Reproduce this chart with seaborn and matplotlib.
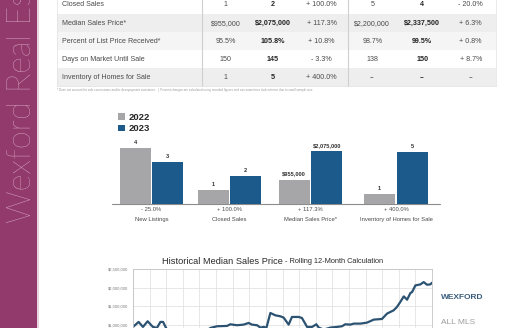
import numpy as np
import pandas as pd
import matplotlib
matplotlib.use("Agg")
import matplotlib.pyplot as plt
from matplotlib.patches import Rectangle, Patch
from matplotlib import font_manager
import seaborn as sns

# ---------------- data ----------------
table_rows = ["Closed Sales", "Median Sales Price*", "Percent of List Price Received*",
              "Days on Market Until Sale", "Inventory of Homes for Sale"]
month_2022 = ["1", "$955,000", "95.5%", "150", "1"]
month_2023 = ["2", "$2,075,000", "105.8%", "145", "5"]
month_change = ["+ 100.0%", "+ 117.3%", "+ 10.8%", "- 3.3%", "+ 400.0%"]
ytd_2022 = ["5", "$2,200,000", "98.7%", "138", "--"]
ytd_2023 = ["4", "$2,337,500", "99.5%", "150", "--"]
ytd_change = ["- 20.0%", "+ 6.3%", "+ 0.8%", "+ 8.7%", "--"]
footnote = ("* Does not account for sale concessions and/or downpayment assistance.  |  "
            "Percent changes are calculated using rounded figures and can sometimes look extreme due to small sample size.")

bar_categories = ["New Listings", "Closed Sales", "Median Sales Price*", "Inventory of Homes for Sale"]
bar_years = ["2022", "2023"]
bar_2022 = [4, 1, 955000, 1]
bar_2023 = [3, 2, 2075000, 5]
bar_change = ["- 25.0%", "+ 100.0%", "+ 117.3%", "+ 400.0%"]

hist_period = [2005.00, 2005.34, 2005.60, 2005.88, 2006.20, 2006.44, 2006.65, 2006.81, 2007.01,
               2007.35, 2007.85, 2008.45, 2009.05, 2009.45, 2009.66, 2010.06, 2010.66, 2010.86,
               2011.26, 2011.66, 2011.96, 2012.16, 2012.47, 2012.67, 2012.87, 2013.03, 2013.27,
               2013.57, 2013.87, 2014.07, 2014.37, 2014.57, 2014.97, 2015.17, 2015.48, 2015.78,
               2016.04, 2016.18, 2016.48, 2016.88, 2017.28, 2017.58, 2017.78, 2018.08, 2018.29,
               2018.69, 2019.09, 2019.49, 2019.99, 2020.29, 2020.69, 2020.89, 2021.09, 2021.30,
               2021.50, 2021.70, 2021.80, 2022.00, 2022.30, 2022.50, 2022.70, 2022.90, 2023.00]
hist_wexford = [951000, 1085000, 951000, 1103000, 951000, 924000, 1085000, 1085000, 906000,
                820000, 780000, 800000, 760000, 850000, 924000, 969000, 978000, 1022000,
                996000, 1013000, 1058000, 1013000, 996000, 933000, 951000, 924000, 1326000,
                1263000, 1237000, 1201000, 1013000, 1219000, 1219000, 1192000, 951000, 951000,
                1022000, 933000, 880000, 933000, 951000, 969000, 1022000, 1013000, 1040000,
                1040000, 1067000, 1147000, 1165000, 1308000, 1397000, 1487000, 1621000, 1772000,
                1683000, 1862000, 1888000, 2067000, 2094000, 2156000, 2085000, 2094000, 2138000]
price_ticks = [1000000, 1500000, 2000000, 2500000]
hist_title = "Historical Median Sales Price"
hist_subtitle = " - Rolling 12-Month Calculation"
series_labels = ["WEXFORD", "ALL MLS"]
sidebar_text = "Wexford Real Estate Market Update"

# ---------------- style ----------------
sns.set_theme(style="white")
plt.rcParams["font.family"] = ["Liberation Sans", "DejaVu Sans"]
names = {f.name for f in font_manager.fontManager.ttflist}
is_narrow = "Liberation Sans Narrow" in names
narrow = ["Liberation Sans Narrow", "Liberation Sans"] if is_narrow else ["Liberation Sans"]

GRAY = "#a6a5a8"
BLUE = "#1c5a8b"
MAGENTA = "#933a6d"
LINE = "#2c5272"
TXT = "#4a4a4a"

W, H = 525, 328
fig = plt.figure(figsize=(W / 100, H / 100), dpi=100)
fig.patch.set_facecolor("white")

def fx(px):
    return px / W

def fy(py):
    return 1 - py / H

# background overlay in pixel coordinates
bg = fig.add_axes([0, 0, 1, 1], zorder=0)
bg.set_xlim(0, W)
bg.set_ylim(H, 0)
bg.axis("off")

# sidebar
bg.add_patch(Rectangle((0, 0), 37, H, color=MAGENTA, lw=0))
bg.add_patch(Rectangle((37, 0), 1.5, H, color="#ecd3e0", lw=0))
fig.text(fx(22), fy(223), sidebar_text, rotation=90, ha="center", va="bottom",
         fontsize=23.5, color="#ecc9dc", family=["Lato", "Liberation Sans"], fontweight="light")

# ---------------- table ----------------
tab_left, tab_right = 57, 496
row_y0, row_h = 5.0, 18.1
shade_col = {1: "#eeeeee", 2: "#f5f5f5", 4: "#eeeeee"}
col_x = [226, 272.7, 321.7, 372.3, 422.3, 470.7]
TFS = 5.1
for i, label in enumerate(table_rows):
    yc = row_y0 + i * row_h
    if i in shade_col:
        bg.add_patch(Rectangle((tab_left, yc - row_h / 2), tab_right - tab_left, row_h,
                               color=shade_col[i], lw=0, zorder=1))
    bg.text(61.5, yc, label, fontsize=TFS, color=TXT, va="center", ha="left", zorder=3)
    cells = [month_2022[i], month_2023[i], month_change[i], ytd_2022[i], ytd_2023[i], ytd_change[i]]
    for j, c in enumerate(cells):
        bold = j in (1, 4)
        bg.text(col_x[j], yc, c, fontsize=TFS, color="#222222" if bold else TXT,
                fontweight="bold" if bold else "normal", va="center", ha="center", zorder=3)
tab_bottom = row_y0 + 4.5 * row_h
for xs in (201.7, 347.7):
    bg.plot([xs, xs], [-5, tab_bottom], color="#cfcfcf", lw=0.8, zorder=2)
bg.plot([tab_left, tab_left], [-5, tab_bottom], color="#e2e2e2", lw=0.5, zorder=2)
bg.plot([tab_right, tab_right], [-5, tab_bottom], color="#e2e2e2", lw=0.5, zorder=2)
bg.plot([tab_left, tab_right], [tab_bottom, tab_bottom], color="#dddddd", lw=0.5, zorder=2)
bg.text(tab_left, 90.5, footnote, fontsize=2.2, color="#9a9a9a", va="center", ha="left")

# ---------------- bar chart ----------------
baseline = 204.3
bar_top_px = 140.0
group_centers = [151.5, 229.5, 310.5, 396.0]
axes_w = 65.0
panel_ylim = [4.6, 4.6, 2.49e6, 6.1]
bg.plot([112, 440], [baseline, baseline], color="#8c8c8c", lw=0.8, zorder=2)

def fmt_val(v, money):
    return f"${v:,.0f}" if money else f"{v:,.0f}"

for i, cat in enumerate(bar_categories):
    ax = fig.add_axes([fx(group_centers[i] - axes_w / 2), fy(baseline), fx(axes_w),
                       (baseline - bar_top_px) / H], zorder=2)
    ax.patch.set_alpha(0)
    df = pd.DataFrame({"year": bar_years, "value": [bar_2022[i], bar_2023[i]]})
    sns.barplot(data=df, x="year", y="value", hue="year", palette=[GRAY, BLUE],
                order=bar_years, hue_order=bar_years, width=0.95, saturation=1,
                legend=False, ax=ax, linewidth=0)
    ax.set_xlim(-0.5, 1.5)
    ax.set_ylim(0, panel_ylim[i])
    ax.axis("off")
    money = "Price" in cat
    for cont in ax.containers:
        for p in cont:
            h = p.get_height()
            ax.annotate(fmt_val(h, money), (p.get_x() + p.get_width() / 2, h),
                        xytext=(0, 2.2), textcoords="offset points", ha="center", va="bottom",
                        fontsize=4.1, fontweight="bold", color="#333333", annotation_clip=False)
    ax.text(0.5, -(209.3 - baseline) / (baseline - bar_top_px), bar_change[i],
            transform=ax.transAxes, ha="center", va="center", fontsize=4.2, color=TXT)
    ax.text(0.5, -(219.3 - baseline) / (baseline - bar_top_px), cat,
            transform=ax.transAxes, ha="center", va="center", fontsize=4.2, color=TXT)

fig.legend(handles=[Patch(color=GRAY, lw=0), Patch(color=BLUE, lw=0)], labels=bar_years,
           loc="upper left", bbox_to_anchor=(fx(118.5), fy(112.5)), frameon=False,
           prop={"weight": "bold", "size": 6.8}, handlelength=0.72, handleheight=0.72,
           handletextpad=0.35, labelspacing=0.3, borderpad=0, borderaxespad=0)

# ---------------- line chart ----------------
top_px, zero_px = 269.3, 362.3
axl = fig.add_axes([fx(133), fy(zero_px), fx(299), (zero_px - top_px) / H], zorder=2)
sns.lineplot(x=hist_period, y=hist_wexford, ax=axl, color=LINE, lw=1.6)
axl.set_xlim(2005, 2023)
axl.set_ylim(0, 2500000)
axl.set_xticks(range(2005, 2024))
axl.set_xticklabels([])
axl.set_yticks([0, 500000] + price_ticks)
axl.set_yticklabels(["", ""] + [f"${v:,.0f}" for v in price_ticks], fontsize=3, color="#7a7a7a")
axl.tick_params(length=0, pad=3.5)
axl.grid(True, color="#e0e0e0", lw=0.55)
for s in axl.spines.values():
    s.set_color("#c4c4c4")
    s.set_linewidth(0.6)
axl.set_xlabel("")
axl.set_ylabel("")

tsize = (7.9, 6.4) if is_narrow else (6.7, 5.3)
fig.text(fx(283), fy(261.5), hist_title, ha="right", va="center", fontsize=tsize[0],
         color="#2a2a2a", family=narrow)
fig.text(fx(283), fy(261.5), hist_subtitle, ha="left", va="center", fontsize=tsize[1],
         color="#2a2a2a", family=narrow)
lsize = 7.0 if is_narrow else 6.0
fig.text(fx(441), fy(297.7), series_labels[0], ha="left", va="center", fontsize=lsize,
         fontweight="bold", color="#3b5d7d", family=narrow)
fig.text(fx(441), fy(322.3), series_labels[1], ha="left", va="center", fontsize=lsize,
         color="#9c9c9c", family=narrow)

fig.savefig("out.png", dpi=100)
